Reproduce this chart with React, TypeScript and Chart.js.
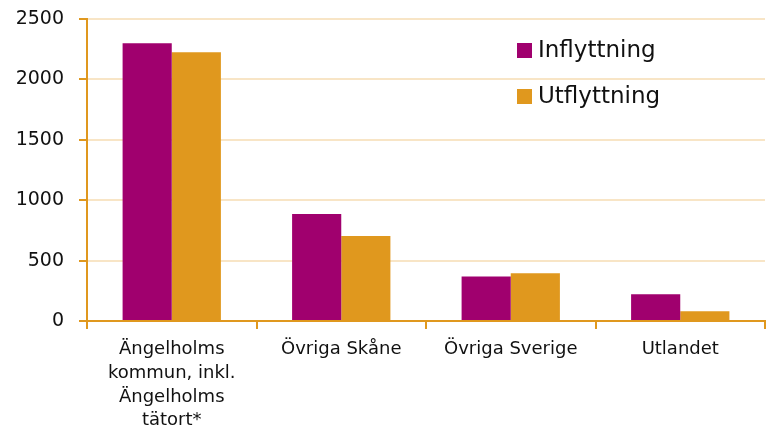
import React, { useEffect, useRef } from "react";
import { Chart, registerables } from "chart.js";

Chart.register(...registerables);

const categories: (string | string[])[] = [
  ["Ängelholms", "kommun, inkl.", "Ängelholms", "tätort*"],
  "Övriga Skåne",
  "Övriga Sverige",
  "Utlandet",
];
const inflyttning = [2300, 885, 368, 222];
const utflyttning = [2225, 703, 395, 80];
const seriesLabels = ["Inflyttning", "Utflyttning"];
const yTicks = [0, 500, 1000, 1500, 2000, 2500];

const PURPLE = "#a0006e";
const ORANGE = "#e0981e";
const GRID = "#f8e5c6";
const FONT = "'DejaVu Sans', sans-serif";

const innerLegend = {
  id: "innerLegend",
  afterDraw(chart: any) {
    const ctx = chart.ctx;
    const x0 = 517;
    const rows = [43, 89];
    ctx.save();
    chart.data.datasets.forEach((ds: any, i: number) => {
      const y = rows[i];
      ctx.fillStyle = ds.backgroundColor;
      ctx.fillRect(x0, y, 15, 15);
      ctx.fillStyle = "#111";
      ctx.font = `23px ${FONT}`;
      ctx.textBaseline = "middle";
      ctx.textAlign = "left";
      ctx.fillText(ds.label, x0 + 21, y + 8);
    });
    ctx.restore();
  },
};

export default function App() {
  const ref = useRef<HTMLCanvasElement | null>(null);
  useEffect(() => {
    if (!ref.current) return;
    const chart = new Chart(ref.current, {
      type: "bar",
      data: {
        labels: categories,
        datasets: [
          {
            label: seriesLabels[0],
            data: inflyttning,
            backgroundColor: PURPLE,
            categoryPercentage: 0.58,
            barPercentage: 1,
          },
          {
            label: seriesLabels[1],
            data: utflyttning,
            backgroundColor: ORANGE,
            categoryPercentage: 0.58,
            barPercentage: 1,
          },
        ],
      },
      options: {
        animation: false,
        responsive: false,
        maintainAspectRatio: false,
        layout: { padding: { top: 19, right: 8, left: 0, bottom: 0 } },
        plugins: { legend: { display: false }, tooltip: { enabled: false } },
        scales: {
          x: {
            grid: {
              offset: true,
              drawOnChartArea: false,
              color: ORANGE,
              tickColor: ORANGE,
              tickLength: 8,
              lineWidth: 2,
            },
            border: { color: ORANGE, width: 2 },
            ticks: {
              color: "#111",
              font: { family: FONT, size: 18, lineHeight: 1.33 },
              padding: 8,
              maxRotation: 0,
              autoSkip: false,
            },
            afterFit: (s: any) => {
              s.height = 430 - 321;
            },
          },
          y: {
            min: 0,
            max: 2500,
            afterBuildTicks: (s: any) => {
              s.ticks = yTicks.map((v) => ({ value: v }));
            },
            grid: {
              color: (c: any) => (c.tick && c.tick.value === 0 ? ORANGE : GRID),
              tickColor: ORANGE,
              tickLength: 8,
              lineWidth: 2,
            },
            border: { color: ORANGE, width: 2 },
            ticks: {
              color: "#111",
              font: { family: FONT, size: 19 },
              padding: 15,
              callback: (v: any) => String(v),
            },
            afterFit: (s: any) => {
              s.width = 87;
              s.paddingTop = 0;
              s.paddingBottom = 0;
            },
          },
        },
      },
      plugins: [innerLegend],
    });
    return () => chart.destroy();
  }, []);
  return (
    <div style={{ position: "absolute", left: 0, top: 0, width: 773, height: 430, background: "#fff" }}>
      <canvas ref={ref} width={773} height={430} />
    </div>
  );
}
